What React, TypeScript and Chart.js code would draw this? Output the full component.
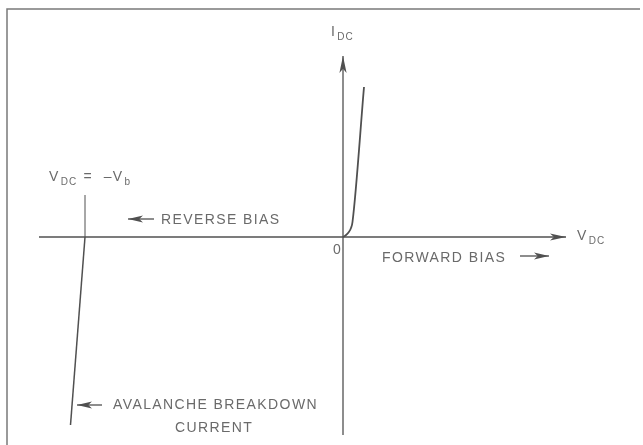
import React, { useEffect, useRef } from "react";
import { Chart, registerables } from "chart.js";

Chart.register(...registerables);

// Scale ranges (arbitrary V / I units)
const V_MIN = -34.3;
const V_MAX = 30.0;
const I_MIN = -20.8;
const I_MAX = 23.7;

// Forward-bias characteristic
const forwardV = [0, 0.25, 0.55, 0.8, 0.95, 2.1];
const forwardI = [0, 0.15, 0.45, 0.9, 1.5, 15.0];

// Avalanche breakdown characteristic
const breakdownV = [-25.8, -27.25];
const breakdownI = [0, -18.8];

// -Vb marker
const vbMarkerV = [-25.8, -25.8];
const vbMarkerI = [0, 4.2];

// Axes
const vAxisV = [-30.4, 22.3];
const vAxisI = [0, 0];
const iAxisV = [0, 0];
const iAxisI = [-19.8, 18.1];

// Frame
const frameV = [-33.6, -33.6, 29.7];
const frameI = [-20.8, 22.8, 22.8];

// Label pointer arrows
const reverseArrowV = [-18.9, -21.5];
const reverseArrowI = [1.8, 1.8];
const forwardArrowV = [17.7, 20.6];
const forwardArrowI = [-1.9, -1.9];
const avalancheArrowV = [-24.1, -26.6];
const avalancheArrowI = [-16.8, -16.8];

// Text labels
const labelTexts = [
  [["I", false], ["DC", true]],
  [["V", false], ["DC", true]],
  [["0", false]],
  [["V", false], ["DC", true], [" =  –V", false], ["b", true]],
  [["REVERSE BIAS", false]],
  [["FORWARD BIAS", false]],
  [["AVALANCHE BREAKDOWN", false]],
  [["CURRENT", false]],
];
const labelV = [-1.2, 23.4, -1.0, -29.4, -18.2, 3.9, -23.0, -16.8];
const labelI = [20.15, -0.3, -1.7, 5.6, 1.3, -2.5, -17.2, -19.5];

const LINE = "#505050";
const TEXT = "#6a6a6a";

const pts = (xs: number[], ys: number[]) => xs.map((x, i) => ({ x, y: ys[i] }));

const annotPlugin = {
  id: "annot",
  afterDatasetsDraw(chart: any) {
    const ctx = chart.ctx as CanvasRenderingContext2D;
    const xs = chart.scales.x;
    const ys = chart.scales.y;
    chart.data.datasets.forEach((ds: any, i: number) => {
      if (!ds.arrow) return;
      const meta = chart.getDatasetMeta(i);
      const d = meta.data;
      const a = d[d.length - 2];
      const b = d[d.length - 1];
      const ang = Math.atan2(b.y - a.y, b.x - a.x);
      const L = ds.arrowLen || 16;
      const W = ds.arrowW || 3.6;
      ctx.save();
      ctx.translate(b.x, b.y);
      ctx.rotate(ang);
      ctx.beginPath();
      ctx.moveTo(0, 0);
      ctx.lineTo(-L, -W);
      ctx.lineTo(-L * 0.75, 0);
      ctx.lineTo(-L, W);
      ctx.closePath();
      ctx.fillStyle = ds.borderColor;
      ctx.fill();
      ctx.restore();
    });

    ctx.save();
    ctx.fillStyle = TEXT;
    ctx.textBaseline = "alphabetic";
    ctx.textAlign = "left";
    labelTexts.forEach((parts: any[], i: number) => {
      let x = xs.getPixelForValue(labelV[i]);
      const y = ys.getPixelForValue(labelI[i]);
      parts.forEach(([t, sub]: [string, boolean]) => {
        if (sub) {
          ctx.font = "10px 'Liberation Sans', Arial, sans-serif";
          (ctx as any).letterSpacing = "1px";
          ctx.fillText(t, x + 1, y + 4);
          x += ctx.measureText(t).width + 2;
        } else {
          ctx.font = "14px 'Liberation Sans', Arial, sans-serif";
          (ctx as any).letterSpacing = "1.4px";
          ctx.fillText(t, x, y);
          x += ctx.measureText(t).width;
        }
      });
    });
    ctx.restore();
  },
};

export default function App() {
  const ref = useRef<HTMLCanvasElement | null>(null);
  useEffect(() => {
    if (!ref.current) return;
    const line = (data: any[], extra: any = {}) => ({
      data,
      showLine: true,
      borderColor: LINE,
      backgroundColor: LINE,
      borderWidth: 1.3,
      pointRadius: 0,
      pointHoverRadius: 0,
      tension: 0,
      ...extra,
    });
    const chart = new Chart(ref.current, {
      type: "scatter",
      data: {
        datasets: [
          line(pts(frameV, frameI), { borderColor: "#7a7a7a", borderWidth: 1.5 }),
          line(pts(vAxisV, vAxisI), { arrow: true }),
          line(pts(iAxisV, iAxisI), { arrow: true, arrowLen: 17 }),
          line(pts(vbMarkerV, vbMarkerI), { borderWidth: 1 }),
          line(pts(breakdownV, breakdownI), { borderWidth: 1.5 }),
          line(pts(forwardV, forwardI), { borderWidth: 1.8, cubicInterpolationMode: "monotone" }),
          line(pts(reverseArrowV, reverseArrowI), { arrow: true, arrowLen: 15 }),
          line(pts(forwardArrowV, forwardArrowI), { arrow: true, arrowLen: 15 }),
          line(pts(avalancheArrowV, avalancheArrowI), { arrow: true, arrowLen: 15 }),
        ] as any,
      },
      options: {
        animation: false,
        responsive: false,
        devicePixelRatio: 1,
        layout: { padding: 0 },
        events: [],
        plugins: { legend: { display: false }, tooltip: { enabled: false } },
        scales: {
          x: { type: "linear", min: V_MIN, max: V_MAX, display: false },
          y: { type: "linear", min: I_MIN, max: I_MAX, display: false },
        },
      },
      plugins: [annotPlugin],
    });
    return () => chart.destroy();
  }, []);
  return (
    <div style={{ position: "absolute", left: 0, top: 0, width: 643, height: 445, background: "#fff" }}>
      <canvas ref={ref} width={643} height={445} style={{ display: "block" }} />
    </div>
  );
}
